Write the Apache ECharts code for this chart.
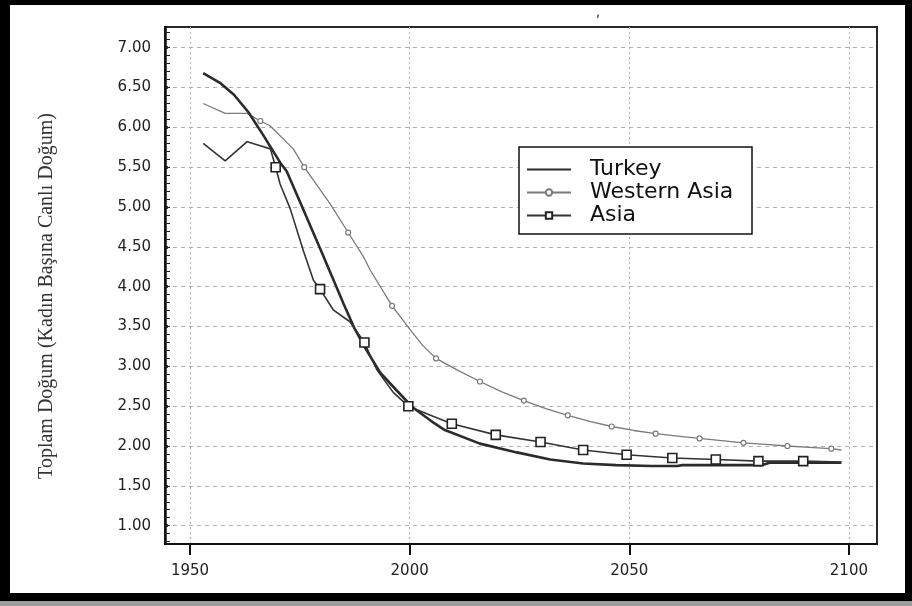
<!DOCTYPE html>
<html>
<head>
<meta charset="utf-8">
<script src="https://cdn.jsdelivr.net/npm/echarts@6/dist/echarts.min.js"></script>
<style>
  html, body { margin: 0; padding: 0; background: #fff; }
  #chart { width: 912px; height: 606px; }
</style>
</head>
<body>
<div id="chart"></div>
<script>
// Total fertility rate (live births per woman), 5-year period estimates and projections
const turkeyYears = [1953, 1956.8, 1960, 1963.3, 1966.7, 1970.5, 1972, 1975, 1980, 1985, 1987.5, 1990.2, 1993.3, 1997, 2000.8, 2005, 2008, 2016, 2024.4, 2032, 2039.5, 2047, 2055, 2061, 2062, 2080, 2082, 2098.3];
const turkeyTfr   = [6.68, 6.56, 6.41, 6.19, 5.90, 5.56, 5.45, 5.07, 4.43, 3.78, 3.47, 3.20, 2.92, 2.70, 2.48, 2.31, 2.20, 2.03, 1.92, 1.83, 1.78, 1.76, 1.75, 1.75, 1.76, 1.76, 1.79, 1.79];

const westAsiaYears = [1953, 1958, 1963, 1966, 1968.2, 1973.5, 1976, 1981.9, 1986, 1989.5, 1991, 1996, 2000.1, 2003, 2006, 2011, 2016, 2021, 2026, 2031, 2036, 2041, 2046, 2051, 2056, 2061, 2066, 2071, 2076, 2081, 2086, 2091, 2096, 2098.3];
const westAsiaTfr   = [6.30, 6.175, 6.175, 6.08, 6.02, 5.73, 5.50, 5.04, 4.68, 4.375, 4.21, 3.76, 3.46, 3.26, 3.10, 2.95, 2.81, 2.68, 2.57, 2.47, 2.385, 2.31, 2.245, 2.195, 2.155, 2.125, 2.095, 2.068, 2.04, 2.02, 2.00, 1.983, 1.967, 1.95];
const westAsiaMarks = [1966, 1976, 1986, 1996, 2006, 2016, 2026, 2036, 2046, 2056, 2066, 2076, 2086, 2096];

const asiaYears = [1953, 1958, 1963, 1966, 1968.3, 1969.5, 1970.5, 1972.8, 1975.8, 1978.1, 1979.6, 1982.6, 1986.4, 1989.7, 1992.5, 1996.3, 1999.7, 2004.6, 2009.6, 2019.6, 2029.8, 2039.5, 2049.4, 2059.8, 2069.7, 2079.4, 2089.6, 2098.3];
const asiaTfr   = [5.80, 5.58, 5.82, 5.77, 5.73, 5.50, 5.29, 4.98, 4.45, 4.08, 3.97, 3.71, 3.56, 3.30, 2.96, 2.67, 2.50, 2.39, 2.28, 2.14, 2.05, 1.95, 1.89, 1.85, 1.83, 1.81, 1.81, 1.80];
const asiaMarks = [1969.5, 1979.6, 1989.7, 1999.7, 2009.6, 2019.6, 2029.8, 2039.5, 2049.4, 2059.8, 2069.7, 2079.4, 2089.6];

const seriesNames = ['Turkey', 'Western Asia', 'Asia'];
const yAxisTitle = 'Toplam Doğum (Kadın Başına Canlı Doğum)';

// Axis ticks
const xTicks = [1950, 2000, 2050, 2100];
const yTicks = [1.0, 1.5, 2.0, 2.5, 3.0, 3.5, 4.0, 4.5, 5.0, 5.5, 6.0, 6.5, 7.0];
const yMinorTicks = [];
for (let k = 8; k <= 72; k++) yMinorTicks.push(k / 10);

function buildData(years, values, marks) {
  return years.map((yr, i) => {
    const item = { value: [yr, values[i]] };
    if (!marks || marks.indexOf(yr) < 0) item.symbol = 'none';
    return item;
  });
}

const chart = echarts.init(document.getElementById('chart'), null, { renderer: 'canvas' });

const labelFont = { fontFamily: 'DejaVu Sans', fontSize: 15, color: '#222' };

chart.setOption({
  animation: false,
  backgroundColor: '#fff',
  grid: {
    left: 165, right: 35, top: 27, bottom: 62,
    show: true, borderColor: '#2a2a2a', borderWidth: 2, backgroundColor: 'transparent'
  },
  xAxis: {
    type: 'value', min: 1944.3, max: 2106.4,
    axisLine: { show: true, onZero: false, lineStyle: { color: '#111', width: 2 } },
    axisTick: { show: true, customValues: xTicks, length: 11, lineStyle: { color: '#111', width: 2 } },
    axisLabel: Object.assign({ customValues: xTicks, margin: 20, formatter: v => String(v) }, labelFont),
    splitLine: { show: true, lineStyle: { color: '#b0b0b0', type: [2, 3], width: 1 } }
  },
  yAxis: [
    {
      type: 'value', min: 0.77, max: 7.26,
      axisLine: { show: true, onZero: false, lineStyle: { color: '#111', width: 2.5 } },
      axisTick: { show: true, inside: true, customValues: yTicks, length: 3, lineStyle: { color: '#111', width: 2.5 } },
      axisLabel: Object.assign({ customValues: yTicks, margin: 14, formatter: v => Number(v).toFixed(2) }, labelFont),
      splitLine: { show: true, lineStyle: { color: '#b0b0b0', type: [4, 4], width: 1 } }
    },
    {
      type: 'value', min: 0.77, max: 7.26, position: 'left',
      axisLine: { show: false },
      axisLabel: { show: false },
      splitLine: { show: false },
      axisTick: { show: true, inside: true, customValues: yMinorTicks, length: 5, lineStyle: { color: '#222', width: 1 } }
    }
  ],
  legend: {
    orient: 'vertical', left: 526, top: 158, padding: 0,
    itemWidth: 44, itemHeight: 8, itemGap: 0,
    data: [
      { name: seriesNames[0], itemStyle: { opacity: 0 } },
      { name: seriesNames[1] },
      { name: seriesNames[2] }
    ],
    textStyle: { fontFamily: 'DejaVu Sans', fontSize: 22, color: '#111', lineHeight: 23, padding: [0, 0, 0, 14] },
    z: 10
  },
  graphic: [
    // legend frame
    { type: 'rect', z: 5, shape: { x: 519, y: 147, width: 233, height: 87 },
      style: { fill: '#fff', stroke: '#111', lineWidth: 1.5 } },
    // vertical axis title
    { type: 'text', x: 47, y: 296, rotation: Math.PI / 2,
      style: { text: yAxisTitle, fontFamily: 'Liberation Serif', fontSize: 20, fill: '#333', align: 'center', verticalAlign: 'middle' } },
    { type: 'text', x: 598, y: 22,
      style: { text: 'ʹ', fontFamily: 'DejaVu Sans', fontSize: 14, fill: '#222', align: 'center', verticalAlign: 'middle' } },
    // outer black frame
    { type: 'rect', z: 20, shape: { x: 0, y: 0, width: 10, height: 606 }, style: { fill: '#000' } },
    { type: 'rect', z: 20, shape: { x: 0, y: 0, width: 912, height: 5 }, style: { fill: '#000' } },
    { type: 'rect', z: 20, shape: { x: 905, y: 0, width: 7, height: 606 }, style: { fill: '#000' } },
    { type: 'rect', z: 20, shape: { x: 0, y: 593, width: 912, height: 8 }, style: { fill: '#000' } },
    { type: 'rect', z: 20, shape: { x: 0, y: 601, width: 912, height: 5 }, style: { fill: '#9c9c9c' } }
  ],
  series: [
    {
      name: seriesNames[0], type: 'line', symbol: 'none',
      data: buildData(turkeyYears, turkeyTfr, null),
      lineStyle: { color: '#2b2b2b', width: 2.6 },
      itemStyle: { color: '#2b2b2b' },
      z: 3
    },
    {
      name: seriesNames[1], type: 'line', symbol: 'circle', symbolSize: 5, showAllSymbol: true,
      data: buildData(westAsiaYears, westAsiaTfr, westAsiaMarks),
      lineStyle: { color: '#7a7a7a', width: 1.3 },
      itemStyle: { color: '#fff', borderColor: '#7a7a7a', borderWidth: 1.2 },
      z: 2
    },
    {
      name: seriesNames[2], type: 'line', symbol: 'rect', symbolSize: 9, showAllSymbol: true,
      data: buildData(asiaYears, asiaTfr, asiaMarks),
      lineStyle: { color: '#333', width: 1.6 },
      itemStyle: { color: '#fff', borderColor: '#222', borderWidth: 1.6 },
      z: 4
    }
  ]
});
</script>
</body>
</html>
